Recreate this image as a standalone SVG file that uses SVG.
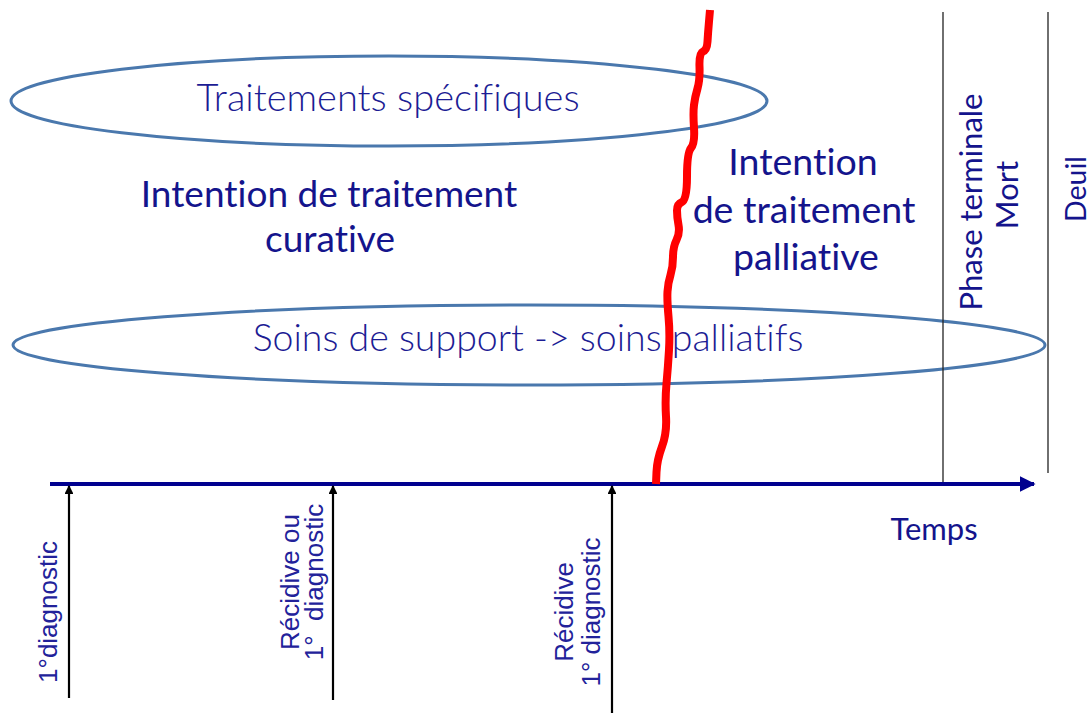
<svg xmlns="http://www.w3.org/2000/svg" width="1091" height="713" viewBox="0 0 1091 713">
<style>
text{font-variant-ligatures:none;font-feature-settings:"liga" 0}
.ell{fill:none;stroke:#4a78ad;stroke-width:3}
.cal{font-family:Lato,"Open Sans","Liberation Sans",sans-serif;fill:#14148c}
.light{font-family:Lato,"Open Sans","Liberation Sans",sans-serif;font-weight:300;fill:#1c1c94}
.ari{font-family:"Liberation Sans",Arial,sans-serif;fill:#22229a;font-size:26px}
.vl{stroke:#000;stroke-width:2.2;fill:none}
.thin{stroke:#222;stroke-width:1.3;fill:none}
</style>
<defs>
<marker id="ah" viewBox="0 0 10 10" refX="9" refY="5" markerWidth="4" markerHeight="4" orient="auto" markerUnits="strokeWidth">
<path d="M0,0 L10,5 L0,10 z" fill="#000"/>
</marker>
<marker id="navyah" viewBox="0 0 10 10" refX="9" refY="5" markerWidth="4" markerHeight="4.5" orient="auto" markerUnits="strokeWidth">
<path d="M0,0 L10,5 L0,10 z" fill="#00008f"/>
</marker>
</defs>
<rect width="1091" height="713" fill="#fff"/>
<g id="ellipse-traitements">
<ellipse class="ell" cx="389" cy="101" rx="378" ry="45"/>
<text class="light" x="388" y="111" font-size="38" text-anchor="middle">Traitements spécifiques</text>
</g>
<g id="ellipse-soins">
<ellipse class="ell" cx="529" cy="345" rx="516" ry="40"/>
<text class="light" x="528" y="351" font-size="37.5" text-anchor="middle">Soins de support -&gt; soins palliatifs</text>
</g>
<g id="curative">
<text class="cal" font-size="37" text-anchor="middle"><tspan x="329" y="207">Intention de traitement</tspan><tspan x="330" y="252">curative</tspan></text>
</g>
<g id="palliative">
<text class="cal" font-size="37.5" text-anchor="middle"><tspan x="803" y="175">Intention</tspan><tspan x="804" y="223">de traitement</tspan><tspan x="806" y="270">palliative</tspan></text>
</g>
<g id="phase-terminale">
<line class="thin" x1="943" y1="12" x2="943" y2="484"/>
<text class="cal" font-size="31" text-anchor="middle" transform="translate(982,202) rotate(-90)"><tspan x="0" y="0">Phase terminale</tspan><tspan x="7" y="36">Mort</tspan></text>
</g>
<g id="deuil">
<line class="thin" x1="1048" y1="12" x2="1048" y2="473"/>
<text class="cal" font-size="28.5" text-anchor="middle" transform="translate(1086,189) rotate(-90)">Deuil</text>
</g>
<g id="temps">
<text class="cal" font-size="31" x="934" y="540" text-anchor="middle">Temps</text>
</g>
<g id="connectors">
<line x1="50" y1="484" x2="1034" y2="484" stroke="#00008f" stroke-width="4" marker-end="url(#navyah)"/>
<line class="vl" x1="69" y1="698" x2="69" y2="486" marker-end="url(#ah)"/>
<line class="vl" x1="333" y1="700" x2="333" y2="486" marker-end="url(#ah)"/>
<line class="vl" x1="612" y1="713" x2="612" y2="486" marker-end="url(#ah)"/>
<path fill="none" stroke="#ff0000" stroke-width="8" stroke-linejoin="round" d="M710,10 L709,21.5 Q708,33 707.5,41.5 Q707,50 703,51.5 Q699,53 699.5,66.5 Q700,80 697.5,88.5 Q695,97 694,105 Q693,113 694,128 Q695,143 691,148 Q687,153 687,176.5 Q687,200 682,202 Q677,204 677,210.5 Q677,217 678.5,225 Q680,233 676.5,240 Q673,247 673,257 Q673,267 670.5,275 Q668,283 667.5,291.5 Q667,300 668.5,316.5 Q670,333 669,350 Q668,367 666.5,383.5 Q665,400 666,416.5 Q667,433 662,446.5 Q657,460 656.5,472 L656,484"/>
</g>
<g id="label-1-diagnostic">
<text class="ari" transform="translate(57,612) rotate(-90)" text-anchor="middle">1°diagnostic</text>
</g>
<g id="label-recidive-ou">
<text class="ari" transform="translate(299,582) rotate(-90)" text-anchor="middle" xml:space="preserve"><tspan x="0" y="0">Récidive ou</tspan><tspan x="0" y="24">1°  diagnostic</tspan></text>
</g>
<g id="label-recidive">
<text class="ari" transform="translate(573,612) rotate(-90)" text-anchor="middle"><tspan x="0" y="0">Récidive</tspan><tspan x="0" y="27">1° diagnostic</tspan></text>
</g>
</svg>
